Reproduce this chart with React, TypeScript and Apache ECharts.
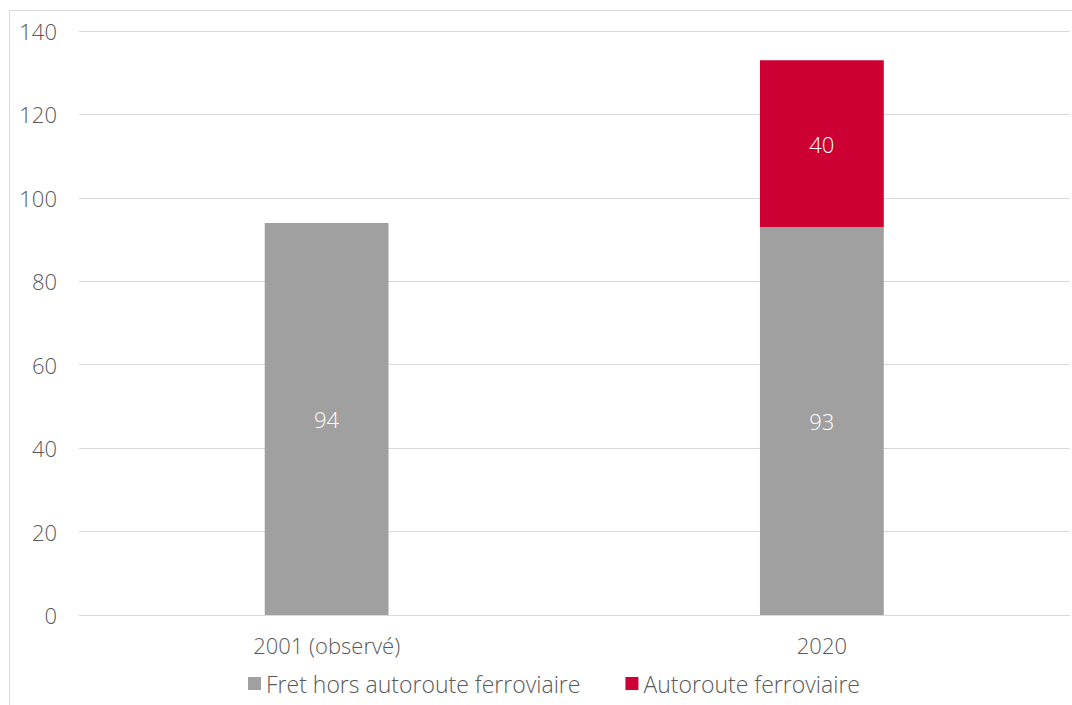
import React, { useEffect, useRef } from "react";
import * as echarts from "echarts";

const categories = ["2001 (observé)", "2020"];
const fretHors = [94, 93];
const autoroute = [null, 40];
const seriesNames = ["Fret hors autoroute ferroviaire", "Autoroute ferroviaire"];
const yTicks = { min: 0, max: 140, interval: 20 };

export default function App() {
  const ref = useRef<HTMLDivElement>(null);
  useEffect(() => {
    const chart = echarts.init(ref.current!, null, { renderer: "svg" });
    const font = "'Open Sans', 'Noto Sans', sans-serif";
    const fs = 22;
    const fw = 300;
    const label = {
      show: true,
      position: "inside",
      color: "#ffffff",
      fontSize: fs,
      fontWeight: fw,
      fontFamily: font,
    };
    chart.setOption({
      animation: false,
      backgroundColor: "#ffffff",
      textStyle: { fontFamily: font },
      graphic: [
        {
          type: "rect",
          shape: { x: 9.5, y: 10.5, width: 1200, height: 900 },
          style: { fill: "none", stroke: "#d9d9d9", lineWidth: 1 },
          silent: true,
        },
      ],
      grid: { left: 79, right: 2.5, top: 31, bottom: 90, containLabel: false },
      legend: {
        bottom: 5,
        left: 243,
        itemWidth: 13,
        itemHeight: 13,
        itemGap: 45,
        icon: "rect",
        textStyle: { fontSize: 23, fontWeight: fw, color: "#595959", fontFamily: font },
        data: seriesNames,
      },
      xAxis: {
        type: "category",
        data: categories,
        axisLine: { lineStyle: { color: "#d9d9d9" } },
        axisTick: { show: false },
        axisLabel: { color: "#595959", fontSize: fs, fontWeight: fw, margin: 19, fontFamily: font },
      },
      yAxis: {
        type: "value",
        min: yTicks.min,
        max: yTicks.max,
        interval: yTicks.interval,
        axisLine: { show: false },
        axisTick: { show: false },
        splitLine: { lineStyle: { color: "#d9d9d9" } },
        axisLabel: { color: "#595959", fontSize: fs, fontWeight: fw, margin: 22, fontFamily: font },
      },
      series: [
        {
          name: seriesNames[0],
          type: "bar",
          stack: "total",
          data: fretHors,
          barWidth: "25%",
          itemStyle: { color: "#a0a0a0" },
          label,
        },
        {
          name: seriesNames[1],
          type: "bar",
          stack: "total",
          data: autoroute,
          barWidth: "25%",
          itemStyle: { color: "#cc0033" },
          label,
        },
      ],
    });
    return () => chart.dispose();
  }, []);
  return (
    <div
      ref={ref}
      style={{ position: "fixed", left: 0, top: 0, width: 1072, height: 705 }}
    />
  );
}
